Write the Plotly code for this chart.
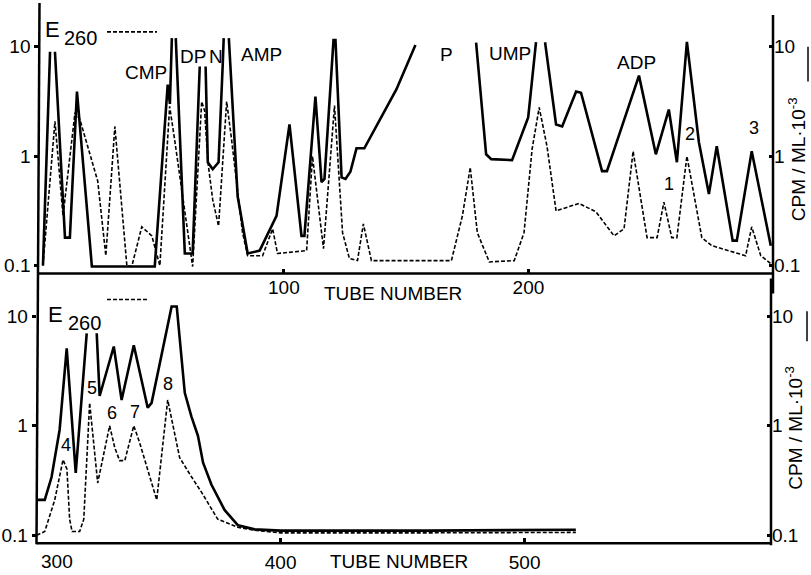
import plotly.graph_objects as go

# ---------------- data ----------------
# Upper panel: tube numbers 0-300
top_solid_tube = [1.5, 4.4, 5.4, 6.4, 10.5, 12.5, 15.4, 21.5, 47.2, 52.5, 53.4, 54.2, 55.0, 55.8, 59.5, 62.7,
                  65.6, 66.8, 68.0, 68.9, 70.9, 73.3, 75.0, 75.4, 76.4, 77.5, 81.1, 85.2, 90.1, 97.0, 102.3,
                  107.2, 108.4, 112.9, 115.4, 116.6, 120.3, 121.1, 123.6, 125.2, 127.2, 129.7, 132.9, 146.0,
                  153.8, 166.0, 178.6, 182.7, 184.8, 193.3, 199.9, 203.1, 205.0, 206.8, 211.3, 213.8, 219.5,
                  221.5, 230.1, 232.1, 245.2, 252.1, 257.4, 260.7, 264.8, 269.7, 273.8, 277.0, 283.5, 285.2,
                  291.3, 299.1]
top_solid_cpm = [0.1, 9.0, None, 9.0, 0.18, 0.18, 3.9, 0.098, 0.098, 4.5, 3.0, 12, None, 12, 0.129, 0.129,
                 6.6, None, 6.6, 0.88, 0.76, 0.88, 6.9, 12, None, 12, 0.43, 0.129, 0.137, 0.285, 1.95,
                 0.187, 0.187, 3.5, 0.58, 0.62, 11.5, 11.5, 0.64, 0.62, 0.72, 1.18, 1.18, 4.07,
                 10.4, None, 10.9, 1.04, 0.94, 0.92, 2.26, 11.0, None, 11.0, 1.95, 1.87, 3.9,
                 3.8, 0.73, 0.73, 5.45, 1.04, 2.67, 0.88, 11.1, 1.34, 0.45, 1.23, 0.169, 0.169,
                 1.11, 0.152]

top_dash_tube = [1.5, 6.4, 9.7, 14.6, 16.6, 23.9, 27.2, 30.9, 35.8, 37.8, 41.9, 46.0, 49.3, 53.3, 55.3,
                 62.7, 66.4, 67.6, 68.9, 70.9, 73.3, 76.6, 78.6, 80.7, 83.1, 85.2, 91.3, 95.4, 97.4, 109.3,
                 111.7, 116.2, 120.7, 124.0, 126.8, 130.1, 132.5, 135.8, 168.5, 173.0, 176.2, 179.1,
                 184.0, 194.2, 198.2, 201.5, 204.4, 207.6, 211.3, 220.7, 227.6, 235.0, 239.1, 242.8,
                 248.5, 252.6, 255.4, 258.6, 260.7, 264.8, 270.9, 275.0, 288.8, 291.3, 295.0, 299.1]
top_dash_e260 = [0.1, 2.08, 0.285, 2.5, 2.17, 0.59, 0.123, 1.87, 0.1, 0.098, 0.226, 0.187, 0.1, 2.85, 1.43,
                 0.098, 3.16, 2.6, 0.9, 0.4, 0.23, 3.16, 1.43, 0.58, 0.2, 0.123, 0.123, 0.217, 0.129, 0.137,
                 1.0, 0.143, 2.9, 0.2, 0.116, 0.111, 0.24, 0.111, 0.111, 0.285, 0.79, 0.2,
                 0.108, 0.111, 0.2, 1.16, 2.79, 1.23, 0.316, 0.37, 0.31, 0.187, 0.217, 1.11,
                 0.18, 0.18, 0.38, 0.18, 0.18, 1.0, 0.18, 0.152, 0.123, 0.226, 0.123, 0.104]

# Lower panel: tube numbers 300-600
bot_solid_tube = [300, 303.3, 306.1, 309.4, 312.3, 316.0, 320.5, 322.5, 324.6, 325.8, 331.6, 334.8, 339.8,
                  345.5, 347.1, 355.3, 357.4, 360.7, 363.4, 366.1, 368.2, 371.6, 377.0, 382.5, 389.3,
                  400, 460, 521]
bot_solid_cpm = [0.21, 0.21, 0.34, 0.92, 5.1, 0.37, 7.0, None, 7.0, 1.87, 5.3, 1.72, 5.45,
                 1.46, 1.62, 12.3, 12.3, 2.0, 1.22, 0.81, 0.46, 0.29, 0.17, 0.123, 0.113,
                 0.11, 0.11, 0.112]

bot_dash_tube = [300, 303.3, 307.4, 310.8, 312.4, 313.5, 314.5, 317.6, 319.3, 321.7, 325.0, 329.9, 332.0,
                 334.0, 336.1, 339.8, 342.2, 349.2, 353.7, 358.6, 363.5, 367.6, 374.2, 382.4, 389.3,
                 400, 460, 521]
bot_dash_e260 = [0.1, 0.108, 0.21, 0.49, 0.4, 0.14, 0.108, 0.108, 0.14, 1.62, 0.3, 1.0, 0.63,
                 0.48, 0.48, 1.0, 0.7, 0.21, 1.72, 0.51, 0.34, 0.246, 0.14, 0.118, 0.111,
                 0.105, 0.105, 0.106]

top_xticks = [100, 200]
bot_xticks = [400, 500]
y_ticks = [0.1, 1, 10]
y_ticktext = ["0.1", "1", "10"]

# ---------------- figure ----------------
W, H = 811, 575
FONT = "Liberation Sans"


def px(x):
    return x / W


def py(y):
    return 1 - y / H


fig = go.Figure()

solid = dict(color="black", width=2.6)
dashed = dict(color="black", width=1.6, dash="4px,2px")

fig.add_trace(go.Scatter(x=top_solid_tube, y=top_solid_cpm, mode="lines", line=solid,
                         xaxis="x", yaxis="y", connectgaps=False, showlegend=False))
fig.add_trace(go.Scatter(x=top_dash_tube, y=top_dash_e260, mode="lines", line=dashed,
                         xaxis="x", yaxis="y", showlegend=False))
fig.add_trace(go.Scatter(x=bot_solid_tube, y=bot_solid_cpm, mode="lines", line=solid,
                         xaxis="x2", yaxis="y2", connectgaps=False, showlegend=False))
fig.add_trace(go.Scatter(x=bot_dash_tube, y=bot_dash_e260, mode="lines", line=dashed,
                         xaxis="x2", yaxis="y2", showlegend=False))
# same series mapped onto the right-hand axes (invisible) so those axes are drawn
fig.add_trace(go.Scatter(x=top_solid_tube, y=top_solid_cpm, mode="lines", line=dict(width=0),
                         xaxis="x", yaxis="y3", showlegend=False, hoverinfo="skip"))
fig.add_trace(go.Scatter(x=bot_solid_tube, y=bot_solid_cpm, mode="lines", line=dict(width=0),
                         xaxis="x2", yaxis="y4", showlegend=False, hoverinfo="skip"))

tickfont = dict(family=FONT, size=19, color="black")
common_x = dict(showgrid=False, zeroline=False, showline=False, ticks="inside", ticklen=5,
                tickwidth=3, tickcolor="black", tickfont=tickfont)
common_y = dict(type="log", showgrid=False, zeroline=False, showline=False, tickvals=y_ticks,
                ticktext=y_ticktext, tickwidth=3, tickcolor="black", ticklen=4, tickfont=tickfont)

fig.update_layout(
    width=W, height=H, autosize=False,
    margin=dict(l=0, r=0, t=0, b=0),
    paper_bgcolor="white", plot_bgcolor="rgba(0,0,0,0)",
    xaxis=dict(domain=[px(39.3), px(773)], range=[0, 300], tickvals=top_xticks,
               ticktext=[str(v) for v in top_xticks], anchor="y", ticklabelstandoff=0, **common_x),
    yaxis=dict(domain=[py(275), py(5)], range=[-1.073, 1.382], anchor="x", ticks="outside", **common_y),
    yaxis3=dict(overlaying="y", side="right", anchor="x", range=[-1.073, 1.382], ticks="inside", **common_y),
    xaxis2=dict(domain=[px(36.7), px(771)], range=[300, 601], tickvals=bot_xticks,
                ticktext=[str(v) for v in bot_xticks], anchor="y2", ticklabelstandoff=6, **common_x),
    yaxis2=dict(domain=[py(546), py(285)], range=[-1.073, 1.3], anchor="x2", ticks="outside", **common_y),
    yaxis4=dict(overlaying="y2", side="right", anchor="x2", range=[-1.073, 1.3], ticks="inside", **common_y),
)

# axis lines drawn as in the scanned figure
axis_line = dict(color="black", width=2.5)
lines = [
    (39.5, 3, 36.5, 547),   # left axis (continuous)
    (39, 275, 773, 275),    # upper panel baseline
    (773, 15, 773, 295),    # upper panel right axis
    (36.5, 546, 771, 546),  # lower panel baseline
    (771, 280, 771, 548),   # lower panel right axis
]
for x0, y0, x1, y1 in lines:
    fig.add_shape(type="line", xref="paper", yref="paper", x0=px(x0), y0=py(y0), x1=px(x1), y1=py(y1),
                  line=axis_line)

# E260 legend dashes
for x0, x1, y in [(107, 157, 32), (107, 148, 301)]:
    fig.add_shape(type="line", xref="paper", yref="paper", x0=px(x0), x1=px(x1), y0=py(y), y1=py(y),
                  line=dict(color="black", width=1.6, dash="4px,2px"))

# solid-line key next to the right-hand titles
for x, y0, y1 in [(808, 47, 82), (807, 313, 343)]:
    fig.add_shape(type="line", xref="paper", yref="paper", x0=px(x), x1=px(x), y0=py(y0), y1=py(y1),
                  line=dict(color="black", width=1.5))

labels = [
    ("E", 52.5, 30, 22), ("260", 80, 38, 20),
    ("CMP", 146, 73, 19), ("DP", 193, 57, 19), ("N", 216, 57, 19), ("AMP", 261, 55, 19),
    ("P", 446, 55, 19), ("UMP", 510, 54, 19), ("ADP", 636, 63, 19),
    ("1", 669, 185, 18), ("2", 690, 135, 18), ("3", 754, 129, 18),
    ("TUBE NUMBER", 393, 295, 19), ("TUBE NUMBER", 399, 564, 19),
    ("E", 56, 316, 22), ("260", 84, 325, 20),
    ("4", 66, 447, 18), ("5", 92, 390, 18), ("6", 112, 415, 18), ("7", 135, 414, 18), ("8", 168, 386, 18),
    ("300", 57, 564, 19),
]
for text, x, y, s in labels:
    fig.add_annotation(text=text, xref="paper", yref="paper", x=px(x), y=py(y), showarrow=False,
                       xanchor="center", yanchor="middle", font=dict(family=FONT, size=s, color="black"))

for x, y in [(797, 160), (794, 430)]:
    fig.add_annotation(text="CPM / ML·10<sup>-3</sup>", xref="paper", yref="paper", x=px(x), y=py(y),
                       showarrow=False, textangle=-90, xanchor="center", yanchor="middle",
                       font=dict(family=FONT, size=19, color="black"))

fig.write_html("out.html", config={"displayModeBar": False},
               post_script="document.body.style.margin='0';document.body.style.overflow='hidden';")
